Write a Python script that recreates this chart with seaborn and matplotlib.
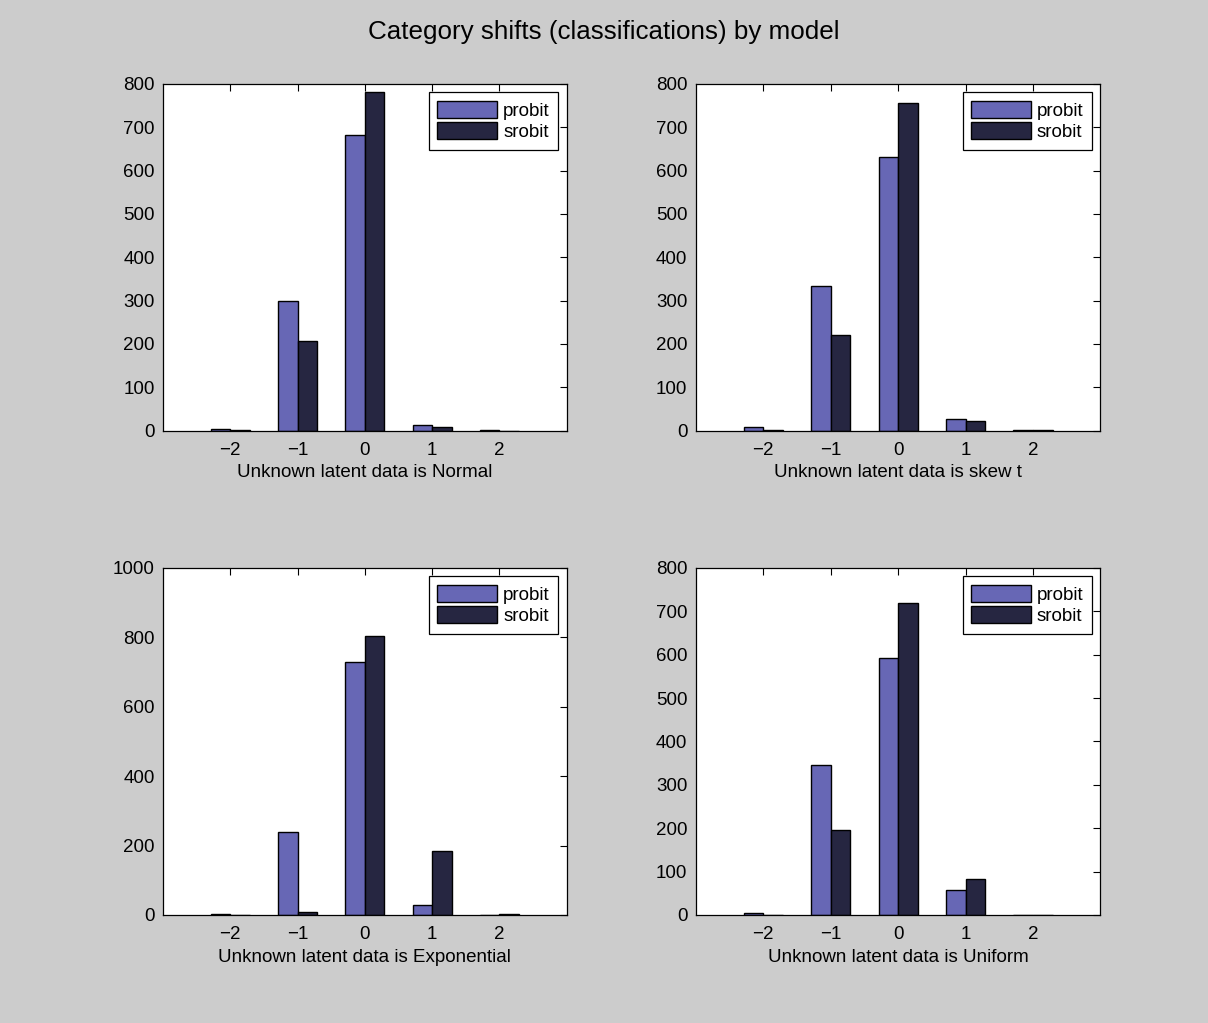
import matplotlib
matplotlib.use("Agg")
import matplotlib.pyplot as plt
import seaborn as sns
import pandas as pd
import numpy as np

shifts = ["−2", "−1", "0", "1", "2"]
models = ["probit", "srobit"]

normal_probit = [4, 300, 681, 14, 1]
normal_srobit = [1, 206, 782, 9, 0]
skewt_probit = [8, 333, 631, 27, 1]
skewt_srobit = [1, 221, 755, 22, 1]
expo_probit = [3, 240, 730, 28, 0]
expo_srobit = [0, 8, 805, 185, 2]
unif_probit = [5, 345, 593, 58, 0]
unif_srobit = [0, 195, 719, 84, 0]

panels = [
    ("Normal", normal_probit, normal_srobit, 800, 100),
    ("skew t", skewt_probit, skewt_srobit, 800, 100),
    ("Exponential", expo_probit, expo_srobit, 1000, 200),
    ("Uniform", unif_probit, unif_srobit, 800, 100),
]

sns.set_style("white")
plt.rcParams["font.family"] = ["Liberation Sans", "DejaVu Sans"]
plt.rcParams["text.color"] = "black"
plt.rcParams["axes.labelcolor"] = "black"
plt.rcParams["xtick.color"] = "black"
plt.rcParams["ytick.color"] = "black"

FS = 13.5

fig = plt.figure(figsize=(12.08, 10.23), dpi=100)
fig.patch.set_facecolor("#cccccc")

positions = [
    [0.135, 0.579, 0.334, 0.339],
    [0.576, 0.579, 0.335, 0.339],
    [0.135, 0.1056, 0.334, 0.3392],
    [0.576, 0.1056, 0.335, 0.3392],
]
palette = {"probit": "#6767b5", "srobit": "#262641"}

for pos, (name, pv, sv, ymax, ystep) in zip(positions, panels):
    ax = fig.add_axes(pos)
    df = pd.DataFrame({
        "shift": shifts * 2,
        "model": ["probit"] * 5 + ["srobit"] * 5,
        "count": pv + sv,
    })
    sns.barplot(data=df, x="shift", y="count", hue="model", order=shifts,
                hue_order=models, palette=palette, width=0.58,
                edgecolor="black", linewidth=1.0, saturation=1, ax=ax, errorbar=None)
    ax.set_facecolor("white")
    ax.set_xlim(-1, 5)
    ax.set_ylim(0, ymax)
    ax.set_yticks(np.arange(0, ymax + 1, ystep))
    ax.set_xticks(range(5))
    ax.set_xticklabels(shifts)
    ax.tick_params(direction="in", top=True, right=True, length=5, width=0.8,
                   labelsize=FS, color="black")
    ax.tick_params(axis="x", pad=8)
    ax.tick_params(axis="y", pad=6)
    for s in ax.spines.values():
        s.set_visible(True)
        s.set_color("black")
        s.set_linewidth(0.9)
    ax.set_xlabel(f"Unknown latent data is {name}", fontsize=FS, labelpad=4)
    ax.set_ylabel("")
    leg = ax.legend(loc="upper right", fontsize=FS, frameon=True, fancybox=False,
                    edgecolor="black", framealpha=1, handlelength=3.2,
                    handleheight=1.0, borderaxespad=0.45, labelspacing=0.15,
                    handletextpad=0.3, borderpad=0.45)
    leg.get_frame().set_linewidth(0.9)

fig.text(0.5, 0.969, "Category shifts (classifications) by model", ha="center",
         va="center", fontsize=18.7)

fig.savefig("out.png", dpi=100, facecolor=fig.get_facecolor())
